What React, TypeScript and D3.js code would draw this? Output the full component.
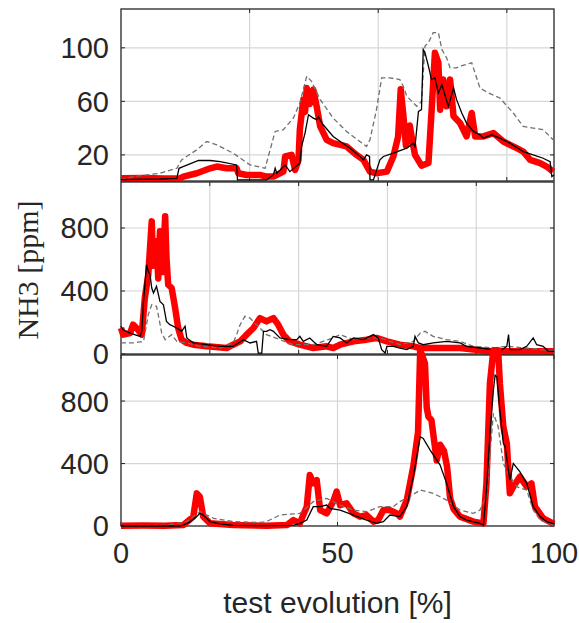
import React, { useRef, useEffect } from 'react';
import * as d3 from 'd3';

type Pt = [number, number];

// Panel 1 (x in % of test, y in ppm)
const p1Black: Pt[] = [[0,1.5],[5,1.8],[9,2],[12.9,2.5],[13.4,10],[14.2,11],[17.9,15.8],[20.6,15.8],[22.9,15],[26.7,12.5],[26.9,1.3],[33.6,1.3],[35.2,5],[35.6,10],[36.0,6.3],[37.9,12.5],[39.0,7.5],[41.3,13.8],[41.7,26.3],[42.5,36.3],[43.3,50],[44.4,47.5],[45.2,46.3],[45.6,48.3],[46.7,42.5],[49.0,33.8],[52.9,25],[55.2,18.8],[56.0,16.3],[56.7,20],[57.4,18.8],[57.5,1.3],[58.3,1.3],[59.8,16.3],[60.6,18.8],[62.9,21.3],[66.0,25],[67.5,28.8],[67.9,26.3],[68.7,52.5],[69.4,53.8],[69.8,98.8],[70.2,96.3],[71.0,86.3],[71.7,76.3],[72.5,77.5],[73.3,66.3],[74.1,72.5],[75.6,56.3],[76.8,70],[77.5,61.3],[78.7,51.3],[79.8,43.8],[81.4,37.5],[82.9,35],[83.7,32.5],[85.6,35],[87.5,32.5],[89.8,28.8],[92.9,22.5],[95.2,20],[97.5,17.5],[99.1,15],[99.5,3.8],[100,5]];
const p1Dash: Pt[] = [[0,1.3],[2.8,3.8],[9.0,6.3],[12.9,10],[14.0,16.3],[17.5,23.8],[19.8,30],[22.1,27.5],[25.9,21.3],[29.8,12.5],[33.3,10],[33.6,13.8],[35.6,37.5],[37.5,38.8],[39.8,47.5],[41.3,58.8],[42.9,78.8],[44.0,75],[46.0,61.3],[49.0,47.5],[52.1,37.5],[56.7,26.3],[57.5,31.3],[59.0,53.8],[60.2,77.5],[62.1,77.5],[64.4,76.3],[65.2,71.3],[66.0,63.8],[68.3,56.3],[69.4,60],[70.2,101.3],[71.0,103.8],[72.1,111.3],[73.3,111.3],[74.1,98.8],[75.2,92.5],[76.0,85],[77.5,85],[78.3,86.3],[81.0,88.8],[82.9,70],[84.8,66.3],[87.5,62.5],[90.6,51.3],[92.9,41.3],[95.2,40],[97.5,38.8],[99.8,31.3]];
const p1Red: Pt[] = [[0,2.5],[5,2.8],[10,2.3],[13.6,2.5],[14.4,3.8],[17.5,6.3],[20.6,10],[22.1,11.3],[24.4,10],[26.7,10],[27.1,6.3],[29.0,5],[32.1,5],[33.6,3.8],[35.2,3.8],[37.5,7.5],[37.9,18.8],[39.4,20],[40.2,8.8],[41.0,16.3],[41.3,38.8],[42.1,61.3],[42.5,52],[42.9,70],[43.6,58],[44.4,68.8],[45.2,56],[46.0,41.3],[47.5,31.3],[49.0,28.8],[52.1,26.3],[54.4,20],[56.0,16.3],[57.5,7.5],[59.0,6.3],[61.4,7.5],[62.9,18.8],[64.0,33.8],[64.6,69],[65.2,50],[65.8,27],[66.7,42],[67.3,30],[67.9,20],[69.4,12],[71.0,14],[71.7,51.3],[72.5,96.3],[73.3,88.8],[73.7,53.8],[74.4,76.3],[75.2,56.3],[76.0,76.3],[76.8,48.8],[78.3,43.8],[79.8,33.8],[81.0,51.3],[81.8,33.8],[83.7,33.8],[86.0,36.3],[88.3,30],[91.4,25],[92.9,22.5],[94.5,16.3],[96.8,13.8],[98.3,11.3],[99.8,7.5]];

// Panel 2
const p2Black: Pt[] = [[0,176],[0.5,154],[2.1,133],[4.4,112],[4.8,144],[5.2,334],[5.9,567],[6.3,525],[6.7,503],[7.1,419],[7.5,387],[8.2,430],[9.0,334],[9.8,313],[10.5,207],[11.3,186],[12.9,165],[14.0,144],[14.8,176],[15.2,102],[16.7,70],[19.8,59],[22.9,49],[25.9,49],[28.3,91],[29.8,70],[31.3,80],[31.7,6],[32.5,6],[32.9,144],[33.6,144],[34.4,154],[35.2,144],[36.7,102],[39.0,91],[40.6,91],[41.3,112],[42.1,80],[43.6,102],[45.2,59],[47.5,49],[49.0,112],[50.6,102],[52.1,70],[53.7,102],[56.0,91],[58.3,123],[59.4,102],[60.2,28],[61.0,6],[61.4,49],[62.9,49],[64.4,38],[66.0,28],[67.5,49],[67.9,112],[68.7,70],[69.8,59],[72.1,70],[75.2,80],[78.3,70],[79.8,49],[82.9,38],[86.0,28],[87.5,17],[89.1,49],[89.5,123],[89.8,28],[92.1,28],[93.7,49],[95.2,102],[96.0,59],[97.5,49],[98.7,17],[100,17]];
const p2Dash: Pt[] = [[0,70],[2.8,70],[5.2,80],[6.3,250],[7.1,313],[8.2,303],[8.6,250],[9.4,133],[10.2,91],[11.7,123],[12.9,80],[15.2,70],[18.2,49],[22.9,38],[25.9,70],[26.7,123],[27.5,186],[28.6,239],[29.8,228],[30.9,197],[32.1,165],[33.6,123],[36.7,91],[39.8,59],[44.4,59],[49.0,102],[50.6,123],[53.7,91],[56.7,102],[59.8,102],[62.1,80],[64.4,59],[67.5,80],[69.1,133],[70.2,144],[72.1,112],[75.2,91],[78.3,80],[81.4,49],[86.0,38],[89.1,49],[93.7,38],[96.8,28],[100,17]];
const p2Red: Pt[] = [[0,165],[0.5,123],[2.1,133],[2.8,186],[3.6,165],[4.8,123],[5.5,355],[6.3,503],[7.1,842],[7.4,560],[7.6,652],[8.2,715],[8.6,480],[9.0,779],[9.6,520],[10.2,874],[10.5,609],[10.9,440],[11.7,419],[12.5,292],[13.2,165],[14.0,91],[15.2,70],[16.7,59],[19.8,49],[24.4,38],[25.9,59],[27.5,80],[29.0,123],[30.6,165],[32.1,228],[33.6,207],[34.4,218],[35.2,228],[36.3,186],[37.5,123],[39.0,80],[41.3,59],[44.4,38],[47.5,49],[49.0,38],[50.6,59],[53.7,80],[56.7,91],[59.0,102],[61.4,80],[64.4,59],[67.5,49],[69.1,38],[72.1,38],[75.2,38],[78.3,38],[81.4,28],[84.4,17],[87.5,17],[90.6,17],[95.2,17],[100,17]];

// Panel 3
const p3Black: Pt[] = [[0,0],[13.6,0],[14.4,6],[16.0,28],[17.5,60],[18.2,81],[19.0,70],[20.6,28],[22.9,13],[25.9,4],[33.6,2],[39.8,4],[41.3,17],[42.9,38],[44.4,124],[46.0,124],[47.5,134],[48.3,113],[50.6,102],[53.7,70],[56.7,38],[59.0,17],[60.6,28],[62.1,70],[64.4,60],[66.0,124],[67.5,316],[69.1,572],[69.8,561],[71.4,486],[73.7,390],[75.2,273],[76.8,124],[78.3,60],[79.8,38],[82.9,17],[83.7,6],[84.4,230],[85.2,593],[86.0,870],[86.4,966],[86.8,956],[87.5,742],[88.3,529],[88.7,508],[89.8,294],[90.6,401],[92.1,348],[93.7,273],[95.2,124],[96.8,60],[98.3,28],[100,13]];
const p3Dash: Pt[] = [[0,0],[10.5,4],[15.2,28],[18.2,92],[21.4,49],[25.9,28],[32.1,23],[33.6,28],[36.7,70],[41.3,81],[44.4,156],[47.5,177],[50.6,134],[53.7,102],[56.7,92],[59.8,124],[62.9,124],[64.4,156],[66.7,188],[69.1,230],[72.1,209],[75.2,166],[78.3,102],[81.4,81],[82.9,102],[84.4,188],[86.0,721],[87.1,636],[88.3,401],[89.8,316],[91.4,252],[93.7,230],[95.2,102],[96.8,38],[100,6]];
const p3Red: Pt[] = [[0,2],[5,3],[10,2],[14.4,6],[16.7,60],[17.5,209],[18.2,188],[19.0,60],[20.6,17],[25.9,6],[33.6,2],[38.3,6],[39.8,38],[41.3,17],[42.9,124],[43.6,326],[44.4,273],[45.2,294],[46.0,102],[47.5,81],[49.0,156],[49.8,220],[50.6,134],[52.1,145],[53.7,81],[55.2,60],[56.7,70],[58.3,28],[59.4,38],[60.6,102],[62.1,102],[63.7,81],[64.4,60],[66.0,166],[67.5,380],[68.6,600],[69.1,1126],[70.2,1041],[70.6,760],[71.0,700],[71.7,678],[72.1,593],[72.9,420],[73.7,520],[74.6,480],[75.3,380],[76.0,180],[76.8,110],[78.3,60],[81.4,28],[83.7,17],[84.4,273],[85.2,913],[86.0,1126],[87.1,1126],[87.5,913],[88.3,636],[89.1,529],[89.8,209],[90.6,252],[92.1,316],[93.7,252],[94.8,273],[95.6,124],[97.5,49],[100,13]];

const p1YTicks = [20, 60, 100];
const p2YTicks = [0, 400, 800];
const p3YTicks = [0, 400, 800];
const p1GridX = [30, 60, 90];      // panel 1 own x units (0–101)
const p2GridX = [20, 40, 60, 80];  // panel 2 own x units (0–97.5)
const p3XTicks = [0, 50, 100];
const xLabel = 'test evolution [%]';
const yLabel = 'NH3 [ppm]';

export default function App() {
  const ref = useRef<SVGSVGElement>(null);
  useEffect(() => {
    const svg = d3.select(ref.current!);
    svg.selectAll('*').remove();
    const L = 121, R = 554;
    const axisColor = '#262626';
    const gridColor = '#d6d6d6';
    const font = "'Liberation Sans', Arial, sans-serif";
    const panels = [
      { top: 9, bottom: 181, yDomain: [0.5, 129], yTicks: p1YTicks, gridDomain: [0, 101], gridX: p1GridX, xTicks: null as number[] | null, red: p1Red, dash: p1Dash, black: p1Black },
      { top: 182, bottom: 354, yDomain: [0, 1092], yTicks: p2YTicks, gridDomain: [0, 97.5], gridX: p2GridX, xTicks: null, red: p2Red, dash: p2Dash, black: p2Black },
      { top: 355, bottom: 526, yDomain: [0, 1095], yTicks: p3YTicks, gridDomain: [0, 100], gridX: p3XTicks, xTicks: p3XTicks, red: p3Red, dash: p3Dash, black: p3Black },
    ];
    const tl = 4;
    panels.forEach((p) => {
      const x = d3.scaleLinear().domain([0, 100]).range([L, R]);
      const xg = d3.scaleLinear().domain(p.gridDomain).range([L, R]);
      const y = d3.scaleLinear().domain(p.yDomain).range([p.bottom, p.top]);
      const g = svg.append('g');
      p.gridX.filter((v) => xg(v) > L + 1 && xg(v) < R - 1).forEach((v) => {
        g.append('line').attr('x1', xg(v)).attr('x2', xg(v)).attr('y1', p.top).attr('y2', p.bottom)
          .attr('stroke', gridColor).attr('stroke-width', 1.2);
      });
      p.yTicks.filter((v) => y(v) < p.bottom - 1 && y(v) > p.top + 1).forEach((v) => {
        g.append('line').attr('x1', L).attr('x2', R).attr('y1', y(v)).attr('y2', y(v))
          .attr('stroke', gridColor).attr('stroke-width', 1.2);
      });
      g.append('rect').attr('x', L).attr('y', p.top).attr('width', R - L).attr('height', p.bottom - p.top)
        .attr('fill', 'none').attr('stroke', axisColor).attr('stroke-width', 1.3);
      p.gridX.forEach((v) => {
        const xx = xg(v);
        g.append('line').attr('x1', xx).attr('x2', xx).attr('y1', p.bottom).attr('y2', p.bottom - tl).attr('stroke', axisColor);
        g.append('line').attr('x1', xx).attr('x2', xx).attr('y1', p.top).attr('y2', p.top + tl).attr('stroke', axisColor);
      });
      p.yTicks.forEach((v) => {
        const yy = y(v);
        g.append('line').attr('x1', L).attr('x2', L + tl).attr('y1', yy).attr('y2', yy).attr('stroke', axisColor);
        g.append('line').attr('x1', R).attr('x2', R - tl).attr('y1', yy).attr('y2', yy).attr('stroke', axisColor);
        g.append('text').attr('x', L - 12).attr('y', yy).attr('dy', '0.36em').attr('text-anchor', 'end')
          .attr('font-family', font).attr('font-size', 29).attr('fill', axisColor).text(String(v));
      });
      if (p.xTicks) {
        p.xTicks.forEach((v) => {
          g.append('text').attr('x', x(v)).attr('y', 563).attr('text-anchor', 'middle')
            .attr('font-family', font).attr('font-size', 29).attr('fill', axisColor).text(String(v));
        });
      }
      const line = d3.line<Pt>().x((d) => x(d[0])).y((d) => y(d[1]));
      g.append('path').attr('d', line(p.red)!).attr('fill', 'none').attr('stroke', '#ff0000')
        .attr('stroke-width', 6.5).attr('stroke-linejoin', 'round');
      g.append('path').attr('d', line(p.dash)!).attr('fill', 'none').attr('stroke', '#707070')
        .attr('stroke-width', 1.3).attr('stroke-dasharray', '5,3');
      g.append('path').attr('d', line(p.black)!).attr('fill', 'none').attr('stroke', '#000')
        .attr('stroke-width', 1.3);
    });
    svg.append('text').attr('x', (L + R) / 2).attr('y', 613).attr('text-anchor', 'middle')
      .attr('font-family', font).attr('font-size', 30).attr('fill', axisColor).text(xLabel);
    svg.append('text').attr('transform', 'translate(38,270) rotate(-90)').attr('text-anchor', 'middle')
      .attr('font-family', "'Liberation Serif', 'Times New Roman', serif").attr('font-size', 30)
      .attr('fill', axisColor).text(yLabel);
  }, []);
  return (
    <svg ref={ref} width={579} height={623}
      style={{ position: 'absolute', left: 0, top: 0, background: '#fff' }} />
  );
}
